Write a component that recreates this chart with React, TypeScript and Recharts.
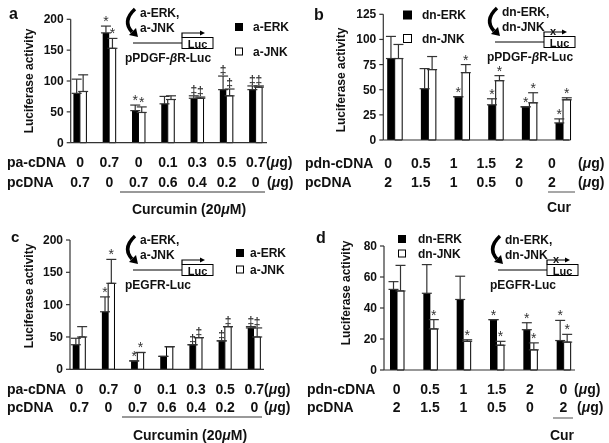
import React from 'react';
import { BarChart, Bar, XAxis, YAxis, ErrorBar, LabelList } from 'recharts';

const W = 609;
const H = 443;
const FONT = '"Liberation Sans", Arial, Helvetica, sans-serif';

// ---- panel a : pPDGF-bR-Luc, active kinases + curcumin
const aGroups = ['g1', 'g2', 'g3', 'g4', 'g5', 'g6', 'g7'];
const aErk = [80, 178, 52, 63, 72, 86, 86];
const aErkErr = [23, 11, 9, 12, 4, 22, 6];
const aJnk = [83, 153, 49, 70, 72, 76, 90];
const aJnkErr = [27, 16, 9, 6, 2, 11, 2];
const aErkMarks = ['', '*', '*', '', '‡', '‡', '‡'];
const aJnkMarks = ['', '*', '*', '', '‡', '‡', '‡'];
const aRow1 = ['0', '0.7', '0', '0.1', '0.3', '0.5', '0.7'];
const aRow2 = ['0.7', '0', '0.7', '0.6', '0.4', '0.2', '0'];
const aTicks = [0, 50, 100, 150, 200];

// ---- panel b : pPDGF-bR-Luc, dominant negative kinases
const bGroups = ['g1', 'g2', 'g3', 'g4', 'g5', 'g6'];
const bErk = [81, 51, 43, 35, 33, 17];
const bErkErr = [22, 20, 0, 6, 0, 4];
const bJnk = [81, 70, 67, 59, 37, 40];
const bJnkErr = [14, 13, 8, 5, 10, 2];
const bErkMarks = ['', '', '*', '*', '*', '*'];
const bJnkMarks = ['', '', '*', '*', '*', '*'];
const bRow1 = ['0', '0.5', '1', '1.5', '2', '0'];
const bRow2 = ['2', '1.5', '1', '0.5', '0', '2'];
const bTicks = [0, 25, 50, 75, 100, 125];

// ---- panel c : pEGFR-Luc, active kinases + curcumin
const cGroups = ['g1', 'g2', 'g3', 'g4', 'g5', 'g6', 'g7'];
const cErk = [38, 89, 13, 20, 38, 44, 64];
const cErkErr = [10, 23, 0, 0, 0, 0, 2];
const cJnk = [50, 133, 26, 35, 49, 66, 50];
const cJnkErr = [16, 37, 0, 0, 0, 0, 14];
const cErkMarks = ['', '*', '*', '', '‡', '‡', '‡'];
const cJnkMarks = ['', '*', '*', '', '‡', '‡', '‡'];
const cRow1 = ['0', '0.7', '0', '0.1', '0.3', '0.5', '0.7'];
const cRow2 = ['0.7', '0', '0.7', '0.6', '0.4', '0.2', '0'];
const cTicks = [0, 50, 100, 150, 200];

// ---- panel d : pEGFR-Luc, dominant negative kinases
const dGroups = ['g1', 'g2', 'g3', 'g4', 'g5', 'g6'];
const dErk = [52, 49.5, 45.5, 32.5, 26, 19];
const dErkErr = [5, 18.5, 15, 0, 4.5, 13];
const dJnk = [51, 26.5, 18.5, 16, 13, 18];
const dJnkErr = [16.5, 6, 1, 2.5, 4.5, 5];
const dErkMarks = ['', '', '', '*', '*', '*'];
const dJnkMarks = ['', '*', '*', '*', '*', '*'];
const dRow1 = ['0', '0.5', '1', '1.5', '2', '0'];
const dRow2 = ['2', '1.5', '1', '0.5', '0', '2'];
const dTicks = [0, 20, 40, 60, 80];

type PanelCfg = {
  groups: string[];
  erk: number[];
  erkErr: number[];
  jnk: number[];
  jnkErr: number[];
  erkMarks: string[];
  jnkMarks: string[];
  row1: string[];
  row2: string[];
  ticks: number[];
  bandStart: number;
  bandWidth: number;
  top: number;
  bottom: number;
  axisX: number;
  axisEnd: number;
  barSize: number;
  rowY1: number;
  rowY2: number;
  rowShift: (i: number) => number;
};

const panels: PanelCfg[] = [
  {
    groups: aGroups, erk: aErk, erkErr: aErkErr, jnk: aJnk, jnkErr: aJnkErr,
    erkMarks: aErkMarks, jnkMarks: aJnkMarks, row1: aRow1, row2: aRow2, ticks: aTicks,
    bandStart: 65.4, bandWidth: 205, top: 19.3, bottom: 142.7, axisX: 70.7, axisEnd: 267,
    barSize: 6.5, rowY1: 162, rowY2: 182, rowShift: () => 0,
  },
  {
    groups: bGroups, erk: bErk, erkErr: bErkErr, jnk: bJnk, jnkErr: bJnkErr,
    erkMarks: bErkMarks, jnkMarks: bJnkMarks, row1: bRow1, row2: bRow2, ticks: bTicks,
    bandStart: 378.2, bandWidth: 202, top: 14.3, bottom: 140, axisX: 383.3, axisEnd: 569,
    barSize: 7.5, rowY1: 163, rowY2: 182, rowShift: (i) => -7 - 0.9 * i,
  },
  {
    groups: cGroups, erk: cErk, erkErr: cErkErr, jnk: cJnk, jnkErr: cJnkErr,
    erkMarks: cErkMarks, jnkMarks: cJnkMarks, row1: cRow1, row2: cRow2, ticks: cTicks,
    bandStart: 64.7, bandWidth: 204.2, top: 240, bottom: 369.3, axisX: 70, axisEnd: 264,
    barSize: 6.3, rowY1: 389, rowY2: 407, rowShift: () => 0,
  },
  {
    groups: dGroups, erk: dErk, erkErr: dErkErr, jnk: dJnk, jnkErr: dJnkErr,
    erkMarks: dErkMarks, jnkMarks: dJnkMarks, row1: dRow1, row2: dRow2, ticks: dTicks,
    bandStart: 380, bandWidth: 200, top: 246, bottom: 370, axisX: 384, axisEnd: 575,
    barSize: 7, rowY1: 389, rowY2: 407, rowShift: () => 0,
  },
];

const makeYTick = (cfg: PanelCfg) => (props: any) => {
  const y = props.payload.coordinate;
  const v = props.payload.value;
  return (
    <g>
      {v === 0 && (
        <>
          <line x1={cfg.axisX} y1={y} x2={cfg.axisX} y2={cfg.top} stroke="#333" strokeWidth={1.2} />
          <line x1={cfg.axisX} y1={y} x2={cfg.axisEnd} y2={y} stroke="#333" strokeWidth={1.2} />
        </>
      )}
      <line x1={cfg.axisX - 4} y1={y} x2={cfg.axisX} y2={y} stroke="#333" strokeWidth={1.2} />
      <text x={cfg.axisX - 7} y={y} textAnchor="end" dominantBaseline="central"
        fontSize={12} fontWeight="bold" fill="#111">{v}</text>
    </g>
  );
};

const makeXTick = (cfg: PanelCfg) => (props: any) => {
  const i = props.index;
  const x = props.payload.coordinate + cfg.rowShift(i);
  return (
    <g>
      <text x={x} y={cfg.rowY1} textAnchor="middle" dominantBaseline="central"
        fontSize={14} fontWeight="bold" fill="#111">{cfg.row1[i]}</text>
      <text x={x} y={cfg.rowY2} textAnchor="middle" dominantBaseline="central"
        fontSize={14} fontWeight="bold" fill="#111">{cfg.row2[i]}</text>
    </g>
  );
};

// label value is packed as "mark|err|value"
const markContent = (props: any) => {
  const raw = String(props.value ?? '');
  const [mark, errS, valS] = raw.split('|');
  if (!mark) return null;
  const vb = props.viewBox || props;
  const { x, y, width, height } = vb;
  const val = Number(valS);
  const px = val ? Math.abs(height) / val : 0;
  const top = y - Number(errS) * px;
  const star = mark === '*';
  return (
    <text x={x + width / 2} y={star ? top : top - 2} textAnchor="middle" fontSize={star ? 14 : 12}
      fill="#333" fontWeight={star ? 'normal' : 'bold'}>{mark}</text>
  );
};

function Panel({ cfg }: { cfg: PanelCfg }) {
  const data = cfg.groups.map((g, i) => ({
    g,
    erk: cfg.erk[i],
    jnk: cfg.jnk[i],
    erkE: [0, cfg.erkErr[i]],
    jnkE: [0, cfg.jnkErr[i]],
    erkM: `${cfg.erkMarks[i]}|${cfg.erkErr[i]}|${cfg.erk[i]}`,
    jnkM: `${cfg.jnkMarks[i]}|${cfg.jnkErr[i]}|${cfg.jnk[i]}`,
  }));
  const max = cfg.ticks[cfg.ticks.length - 1];
  return (
    <div style={{ position: 'absolute', left: 0, top: 0 }}>
      <BarChart
        width={W}
        height={H}
        data={data}
        margin={{
          left: cfg.bandStart - 2,
          right: W - cfg.bandStart - cfg.bandWidth,
          top: cfg.top,
          bottom: H - cfg.bottom - 2,
        }}
        barGap={0}
        barSize={cfg.barSize}
      >
        <XAxis dataKey="g" height={2} axisLine={false} tickLine={false} interval={0} tick={makeXTick(cfg)} />
        <YAxis width={2} domain={[0, max]} ticks={cfg.ticks} axisLine={false} tickLine={false}
          interval={0} tick={makeYTick(cfg)} />
        <Bar dataKey="erk" fill="#000" isAnimationActive={false}>
          <ErrorBar dataKey="erkE" width={5} stroke="#333" strokeWidth={1.2} isAnimationActive={false} />
          <LabelList dataKey="erkM" content={markContent} />
        </Bar>
        <Bar dataKey="jnk" fill="#fff" stroke="#000" strokeWidth={1} isAnimationActive={false}>
          <ErrorBar dataKey="jnkE" width={5} stroke="#333" strokeWidth={1.2} isAnimationActive={false} />
          <LabelList dataKey="jnkM" content={markContent} />
        </Bar>
      </BarChart>
    </div>
  );
}

function Schematic({ ox, oy, l1, l2, label, blocked }: any) {
  return (
    <g>
      <path d={`M${ox + 7},${oy + 1} Q${ox - 6},${oy + 13} ${ox + 4},${oy + 24}`} fill="none" stroke="#000" strokeWidth={3.5} />
      <polygon points={`${ox + 1},${oy + 27} ${ox + 10},${oy + 29} ${ox + 8},${oy + 20}`} fill="#000" />
      <text x={ox + 12} y={oy + 5} dominantBaseline="central" fontSize={12} fontWeight="bold">{l1}</text>
      <text x={ox + 12} y={oy + 20} dominantBaseline="central" fontSize={12} fontWeight="bold">{l2}</text>
      <line x1={ox + 5} y1={oy + 35} x2={ox + 54} y2={oy + 35} stroke="#000" strokeWidth={1} />
      <rect x={ox + 54} y={oy + 29.5} width={31} height={11} fill="#fff" stroke="#000" strokeWidth={1} />
      <text x={ox + 69.5} y={oy + 35.5} textAnchor="middle" dominantBaseline="central" fontSize={11} fontWeight="bold">Luc</text>
      <polyline points={`${ox + 54},${oy + 29.5} ${ox + 54},${oy + 25} ${ox + 73},${oy + 25}`} fill="none" stroke="#000" strokeWidth={1.2} />
      <polygon points={`${ox + 77},${oy + 25} ${ox + 72},${oy + 22.5} ${ox + 72},${oy + 27.5}`} fill="#000" />
      {blocked && (
        <text x={ox + 63} y={oy + 24} textAnchor="middle" dominantBaseline="central" fontSize={11} fontWeight="bold">x</text>
      )}
      <text x={ox - 3} y={oy + 50} dominantBaseline="central" fontSize={12} fontWeight="bold">{label}</text>
    </g>
  );
}

function Legend({ x, y1, y2, tx, s1, s2, size }: any) {
  return (
    <g>
      <rect x={x} y={y1 - size / 2} width={size} height={size} fill="#000" />
      <rect x={x + 0.5} y={y2 - size / 2} width={size - 1} height={size - 1} fill="#fff" stroke="#000" />
      <text x={tx} y={y1} dominantBaseline="central" fontSize={12} fontWeight="bold">{s1}</text>
      <text x={tx} y={y2} dominantBaseline="central" fontSize={12} fontWeight="bold">{s2}</text>
    </g>
  );
}

const B = { fontWeight: 'bold' as const };

function Overlay() {
  const ug = (x: number, y: number) => (
    <text x={x} y={y} dominantBaseline="central" fontSize={14} {...B}>(<tspan fontStyle="italic">μ</tspan>g)</text>
  );
  const rowLbl = (x: number, y: number, s: string) => (
    <text x={x} y={y} dominantBaseline="central" fontSize={14} {...B}>{s}</text>
  );
  const yTitle = (x: number, y: number) => (
    <text x={x} y={y} transform={`rotate(-90 ${x} ${y})`} textAnchor="middle" dominantBaseline="central" fontSize={12} {...B}>
      Luciferase activity
    </text>
  );
  const pdgf = (
    <>pPDGF-<tspan fontStyle="italic">β</tspan>R-Luc</>
  );
  return (
    <svg width={W} height={H} style={{ position: 'absolute', left: 0, top: 0 }} fill="#111">
      {/* panel letters */}
      <text x={9} y={19} fontSize={16} {...B}>a</text>
      <text x={314} y={20} fontSize={16} {...B}>b</text>
      <text x={11} y={242} fontSize={15} {...B}>c</text>
      <text x={316} y={243} fontSize={16} {...B}>d</text>

      {yTitle(29, 81)}
      {yTitle(341, 80)}
      {yTitle(29, 296)}
      {yTitle(346, 293)}

      <Legend x={235} y1={27} y2={52} tx={253} s1="a-ERK" s2="a-JNK" size={8} />
      <Legend x={403} y1={15} y2={39} tx={422} s1="dn-ERK" s2="dn-JNK" size={9} />
      <Legend x={236} y1={253} y2={270} tx={250} s1="a-ERK" s2="a-JNK" size={8} />
      <Legend x={398} y1={239} y2={254} tx={418} s1="dn-ERK" s2="dn-JNK" size={8} />

      <Schematic ox={128} oy={8} l1="a-ERK," l2="a-JNK" label={pdgf} />
      <Schematic ox={490} oy={7} l1="dn-ERK," l2="dn-JNK" label={pdgf} blocked />
      <Schematic ox={128} oy={235} l1="a-ERK," l2="a-JNK" label="pEGFR-Luc" />
      <Schematic ox={493} oy={235} l1="dn-ERK," l2="dn-JNK" label="pEGFR-Luc" blocked />

      {/* row labels */}
      {rowLbl(7, 162, 'pa-cDNA')}
      {rowLbl(7, 182, 'pcDNA')}
      {ug(266, 162)}
      {ug(267, 182)}
      {rowLbl(305, 163, 'pdn-cDNA')}
      {rowLbl(305, 182, 'pcDNA')}
      {ug(578, 163)}
      {ug(578, 182)}
      {rowLbl(7, 389, 'pa-cDNA')}
      {rowLbl(7, 407, 'pcDNA')}
      {ug(264, 389)}
      {ug(264, 407)}
      {rowLbl(307, 389, 'pdn-cDNA')}
      {rowLbl(307, 407, 'pcDNA')}
      {ug(574, 389)}
      {ug(577, 407)}

      {/* treatment bars */}
      <line x1={120} y1={192} x2={265} y2={192} stroke="#777" strokeWidth={1.3} />
      <text x={189} y={209} textAnchor="middle" dominantBaseline="central" fontSize={14} {...B}>
        Curcumin (20<tspan fontStyle="italic">μ</tspan>M)
      </text>
      <line x1={548} y1={192} x2={575} y2={192} stroke="#777" strokeWidth={1.3} />
      <text x={559} y={207} textAnchor="middle" dominantBaseline="central" fontSize={14} {...B}>Cur</text>
      <line x1={122} y1={417} x2={262} y2={417} stroke="#777" strokeWidth={1.3} />
      <text x={190} y={435} textAnchor="middle" dominantBaseline="central" fontSize={14} {...B}>
        Curcumin (20<tspan fontStyle="italic">μ</tspan>M)
      </text>
      <line x1={553} y1={418} x2={573} y2={418} stroke="#777" strokeWidth={1.3} />
      <text x={562} y={435} textAnchor="middle" dominantBaseline="central" fontSize={14} {...B}>Cur</text>
    </svg>
  );
}

export default function App() {
  return (
    <div style={{ position: 'absolute', left: 0, top: 0, width: W, height: H, background: '#fff', fontFamily: FONT, overflow: 'hidden', filter: 'grayscale(1)' }}>
      {panels.map((p, i) => (
        <Panel key={i} cfg={p} />
      ))}
      <Overlay />
    </div>
  );
}
